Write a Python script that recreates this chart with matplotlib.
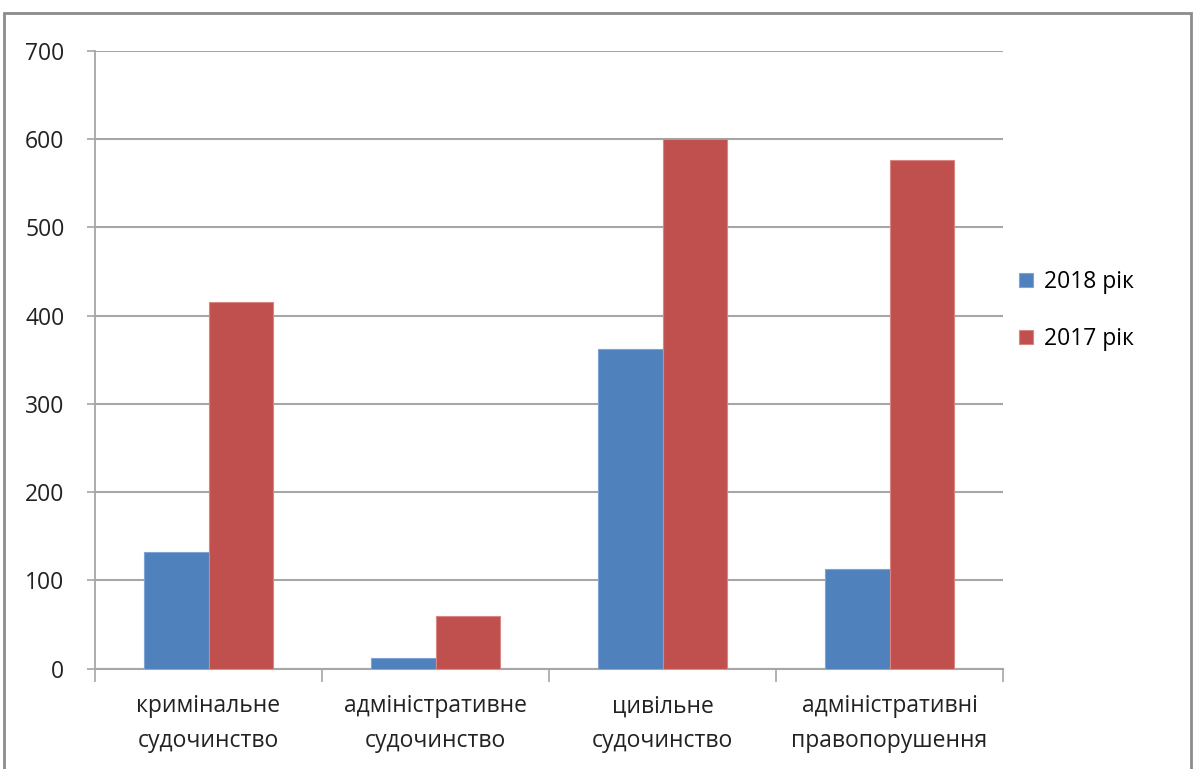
import matplotlib
matplotlib.use("Agg")
import matplotlib.pyplot as plt
import matplotlib.patches as mpatches
import numpy as np

plt.rcParams['font.family'] = ['Open Sans', 'DejaVu Sans']

categories = ["кримінальне\nсудочинство", "адміністративне\nсудочинство",
              "цивільне\nсудочинство", "адміністративні\nправопорушення"]
series_names = ["2018 рік", "2017 рік"]
values_2018 = [132, 12, 362, 113]
values_2017 = [415, 60, 600, 576]
yticks = [0, 100, 200, 300, 400, 500, 600, 700]

blue = "#4F81BD"
red = "#C0504D"
grid_c = "#a6a6a6"
fs = 16.5

fig = plt.figure(figsize=(11.95, 7.69), dpi=100)
ax = fig.add_axes([95/1195, 1-668.5/769, (1003-95)/1195, (668.5-51)/769])

x = np.arange(len(categories))
w = 0.284
b1 = ax.bar(x - w/2, values_2018, w, color=blue, edgecolor="#7fa3d3", linewidth=0.8, label=series_names[0], zorder=3)
b2 = ax.bar(x + w/2, values_2017, w, color=red, edgecolor="#d88583", linewidth=0.8, label=series_names[1], zorder=3)

ax.set_xlim(-0.5, len(categories) - 0.5)
ax.set_ylim(0, 700)
ax.set_yticks(yticks)
ax.set_yticklabels([str(v) for v in yticks], fontsize=fs, color="#222222")
ax.yaxis.grid(True, color=grid_c, linewidth=1.5, zorder=0)
ax.set_axisbelow(True)

for s in ["top", "right"]:
    ax.spines[s].set_visible(False)
ax.spines["left"].set_color(grid_c)
ax.spines["bottom"].set_color(grid_c)
ax.spines["left"].set_linewidth(1.3)
ax.spines["bottom"].set_linewidth(1.5)
ax.tick_params(axis="y", length=6, color=grid_c, width=1.2, pad=16)

# category boundary ticks on x
ax.set_xticks(np.arange(len(categories) + 1) - 0.5)
ax.set_xticklabels([""] * (len(categories) + 1))
ax.tick_params(axis="x", length=9, color=grid_c, width=1.2)
for i, c in enumerate(categories):
    ax.text(i, -0.042, c, transform=ax.get_xaxis_transform(), ha="center", va="top",
            fontsize=fs, color="#222222", linespacing=1.6)

fig.legend(handles=[b1, b2], labels=series_names, loc="center left",
           bbox_to_anchor=(1008/1195, 1-310.5/769), frameon=False, fontsize=fs,
           handlelength=0.6, handleheight=0.6, handletextpad=0.45, labelspacing=1.45,
           borderpad=0)

# outer frame
fig.patches.append(mpatches.Rectangle((4/1195, -0.05), (1191-4)/1195, (1.05 - 13/769),
                                      transform=fig.transFigure, fill=False,
                                      edgecolor="#8c8c8c", linewidth=2))

fig.savefig("out.png", dpi=100, facecolor="white")
